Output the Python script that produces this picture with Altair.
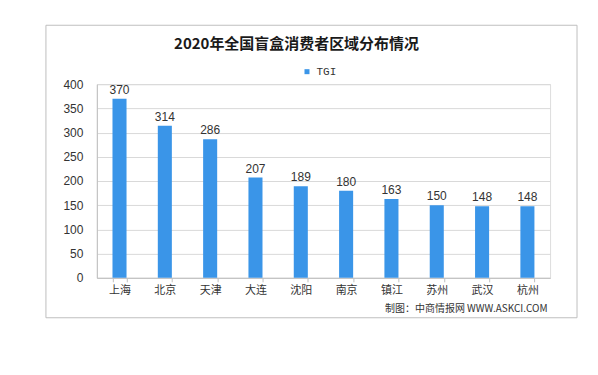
import altair as alt
import pandas as pd

cities = ["上海", "北京", "天津", "大连", "沈阳", "南京", "镇江", "苏州", "武汉", "杭州"]
tgi = [370, 314, 286, 207, 189, 180, 163, 150, 148, 148]
series = ["TGI"] * len(cities)

df = pd.DataFrame({"city": cities, "TGI": tgi, "series": series})

FONT = "Noto Sans CJK SC"

base = alt.Chart(df)

x_enc = alt.X(
    "city:N",
    sort=cities,
    scale=alt.Scale(paddingInner=0.69, paddingOuter=0.345),
    axis=alt.Axis(
        title="制图：中商情报网 WWW.ASKCI.COM",
        titleAnchor="end",
        titleFontSize=10,
        titleFontWeight="normal",
        titleFont=FONT,
        titleColor="#333333",
        titleX=451,
        titleY=26,
        titleAlign="right",
        labelAngle=0,
        labelFontSize=11,
        labelFont=FONT,
        labelColor="#333333",
        labelPadding=3,
        tickBand="extent",
        tickSize=4,
        tickColor="#bfbfbf",
        domainColor="#bfbfbf",
        grid=False,
    ),
)

y_enc = alt.Y(
    "TGI:Q",
    scale=alt.Scale(domain=[0, 400]),
    axis=alt.Axis(
        title=None,
        values=[0, 50, 100, 150, 200, 250, 300, 350, 400],
        labelOverlap=False,
        labelFontSize=12,
        labelFont="Liberation Sans",
        labelColor="#333333",
        tickSize=0,
        labelPadding=14,
        gridColor="#d9d9d9",
        domainColor="#bfbfbf",
    ),
)

bars = base.mark_bar(color="#3a95e8").encode(
    x=x_enc,
    y=y_enc,
    color=alt.Color(
        "series:N",
        scale=alt.Scale(range=["#3a95e8"]),
        legend=alt.Legend(
            title=None,
            orient="none",
            legendX=205,
            legendY=-18,
            symbolType="square",
            symbolSize=25,
            labelFontSize=11,
            labelFont="Liberation Mono",
            labelColor="#333333",
        ),
    ),
)

labels = base.mark_text(dy=-9, fontSize=12, font="Liberation Sans", color="#333333").encode(
    x=x_enc,
    y=y_enc,
    text="TGI:Q",
)

border = base.mark_rect(fill=None, stroke="#bfbfbf", strokeWidth=1, clip=False).encode(
    x=alt.value(-51), x2=alt.value(481), y=alt.value(-59), y2=alt.value(234)
).transform_filter(alt.datum.city == "上海")

chart = alt.layer(border, bars, labels).properties(
    width=454,
    height=194,
    title=alt.TitleParams(
        "2020年全国盲盒消费者区域分布情况",
        font=FONT,
        fontSize=15,
        fontWeight="bold",
        color="#1a1a1a",
        anchor="middle",
        dx=-27,
        offset=-27,
    ),
    autosize=alt.AutoSizeParams(type="none"),
    padding={"left": 89, "top": 76, "right": 40, "bottom": 60},
).configure_view(stroke=None).configure(background="white")

chart.save("out.html", embed_options={"renderer": "svg", "actions": False})
